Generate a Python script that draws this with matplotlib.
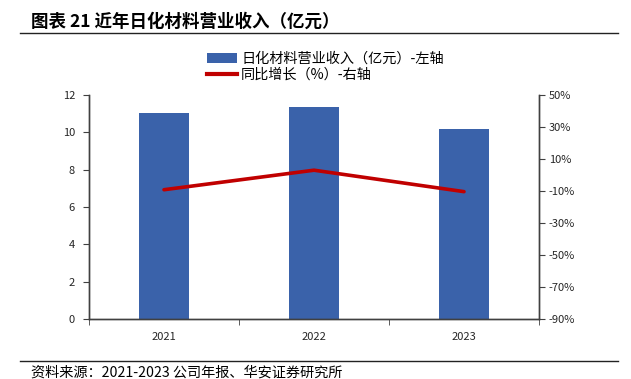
import matplotlib
matplotlib.use("Agg")
import matplotlib.pyplot as plt
from matplotlib.lines import Line2D
from matplotlib.patches import Patch
import numpy as np

plt.rcParams['font.family'] = ['Noto Sans CJK SC', 'DejaVu Sans']
plt.rcParams['axes.unicode_minus'] = False

years = ["2021", "2022", "2023"]
revenue = [11.05, 11.38, 10.20]          # 亿元
growth = [-9.2, 3.0, -10.4]               # %

left_ticks = [0, 2, 4, 6, 8, 10, 12]
right_ticks = [-90, -70, -50, -30, -10, 10, 30, 50]

title = "图表 21 近年日化材料营业收入（亿元）"
bar_label = "日化材料营业收入（亿元）-左轴"
line_label = "同比增长（%）-右轴"
source = "资料来源：2021-2023 公司年报、华安证券研究所"

bar_color = "#3A62AA"
line_color = "#C00000"
axis_color = "#404040"
text_color = "#262626"

W, H = 631, 379
fig = plt.figure(figsize=(W / 100, H / 100), dpi=100)
ax = fig.add_axes([89 / W, 1 - 319 / H, (539 - 89) / W, (319 - 95) / H])
ax2 = ax.twinx()

x = np.arange(len(years))
ax.bar(x, revenue, width=0.33, color=bar_color, zorder=2)
ax.set_xlim(-0.5, len(years) - 0.5)
ax.set_ylim(0, 12)
ax.set_yticks(left_ticks)
ax.set_yticklabels([str(v) for v in left_ticks])
ax.set_xticks(x)
ax.set_xticklabels(years)
ax.set_xticks(np.arange(-0.5, len(years), 1.0), minor=True)
ax.tick_params(axis='x', which='major', length=0, pad=9, labelsize=8, colors=text_color)
ax.tick_params(axis='x', which='minor', length=4, direction='out', color=axis_color)
ax.tick_params(axis='y', length=4, direction='out', labelsize=8, colors=text_color, color=axis_color, pad=6)

ax2.plot(x, growth, color=line_color, linewidth=2.6, solid_capstyle='round', zorder=3)
ax2.set_ylim(-90, 50)
ax2.set_yticks(right_ticks)
ax2.set_yticklabels([f"{v}%" for v in right_ticks])
ax2.tick_params(axis='y', length=4, direction='out', labelsize=8, colors=text_color, color=axis_color, pad=3)

for a in (ax, ax2):
    a.spines['top'].set_visible(False)
    for s in ('left', 'right', 'bottom'):
        a.spines[s].set_color(axis_color)
        a.spines[s].set_linewidth(1.0)

# legend
handles = [Patch(facecolor=bar_color, edgecolor='none'),
           Line2D([0], [0], color=line_color, linewidth=3)]
fig.legend(handles, [bar_label, line_label], loc='upper left',
           bbox_to_anchor=(207 / W, 1 - 52 / H), frameon=False,
           fontsize=10.2, handlelength=2.1, handleheight=0.8, handletextpad=0.3,
           labelspacing=0.15, borderaxespad=0, borderpad=0)

# title and rules
fig.text(31 / W, 1 - 21.5 / H, title, fontsize=12.6, fontweight='bold',
         va='center', ha='left', color='black')
fig.add_artist(Line2D([20 / W, 618 / W], [1 - 33 / H, 1 - 33 / H], color='#222222', linewidth=1.0))
fig.add_artist(Line2D([20 / W, 618 / W], [1 - 361 / H, 1 - 361 / H], color='#222222', linewidth=1.0))
fig.text(31 / W, 1 - 373 / H, source, fontsize=10.2, va='center', ha='left', color='black')

fig.savefig("out.png", dpi=100)
